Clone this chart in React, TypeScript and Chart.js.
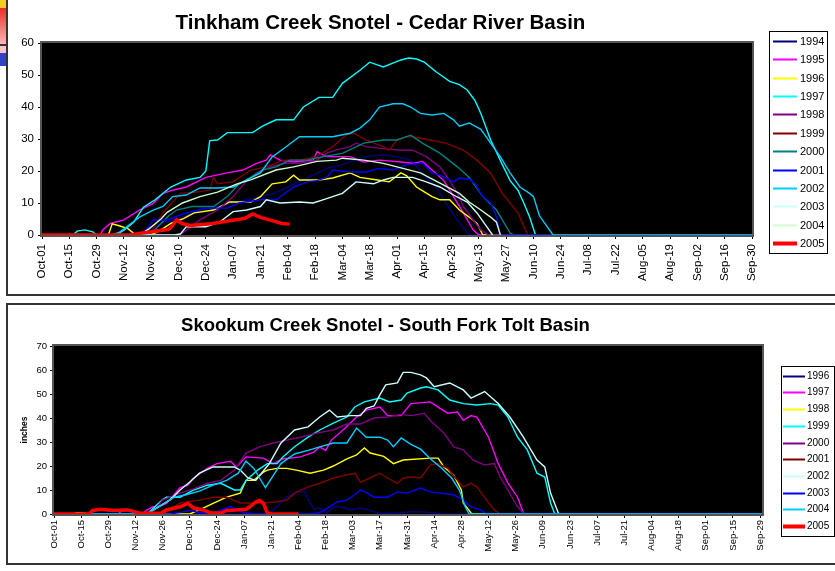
import React, { useEffect, useRef } from "react";
import { Chart, registerables } from "chart.js";

Chart.register(...registerables);

type Pt = [number, number];

const FONT = "'Liberation Sans', Arial, Helvetica, sans-serif";

// ================= Top chart: Tinkham Creek =================
const topTitle = "Tinkham Creek Snotel - Cedar River Basin";
const topTickLabels = [
  "Oct-01", "Oct-15", "Oct-29", "Nov-12", "Nov-26", "Dec-10", "Dec-24", "Jan-07", "Jan-21",
  "Feb-04", "Feb-18", "Mar-04", "Mar-18", "Apr-01", "Apr-15", "Apr-29", "May-13", "May-27",
  "Jun-10", "Jun-24", "Jul-08", "Jul-22", "Aug-05", "Aug-19", "Sep-02", "Sep-16", "Sep-30",
];
const topYears = ["1994", "1995", "1996", "1997", "1998", "1999", "2000", "2001", "2002", "2003", "2004", "2005"];
const topColors = ["#000080", "#FF00FF", "#FFFF00", "#00FFFF", "#800080", "#800000", "#008080", "#0000FF", "#00CCFF", "#CCFFFF", "#CCFFCC", "#FF0000"];

// [day since Oct-01, inches]
const t1994: Pt[] = [[0,0],[50,0],[56,2],[63,4],[70,5],[77,7],[84,8],[91,9],[98,10],[105,11],[112,12],[119,13],[126,15],[133,17],[140,19],[147,21],[154,22],[165,24.4],[175,25],[182,24.4],[189,23.4],[195,19.4],[202,15],[207,10],[213,4.7],[218,0.6],[219,0],[364,0]];
const t1995: Pt[] = [[0,0],[30,0],[31,1.5],[35,3.6],[42,4.7],[50,7.8],[57,9.9],[62,13],[67,14],[74,15],[84,18],[95,19.4],[103,20.3],[110,22.4],[115,23.4],[117,25],[122,23.4],[129,22.8],[139,23.4],[141,26],[146,24.5],[158,24.5],[165,22.8],[173,23.4],[184,22.8],[190,22.4],[195,23],[200,20.3],[206,17],[211,12],[216,6.9],[221,1.6],[224,0],[364,0]];
const t1996: Pt[] = [[0,0],[34,0],[36,3.5],[40,2.8],[44,2],[47,0.5],[57,0.3],[62,2],[66,3.6],[72,5],[78,6.9],[88,7.8],[96,10.3],[107,10.3],[112,12],[115,14],[118,16],[125,16.6],[129,18.7],[132,17.2],[142,17.2],[149,17.8],[158,19.4],[163,18],[172,17.2],[178,16.6],[184,19.4],[187,18.5],[192,15],[196,13.5],[200,12],[204,11],[209,11],[214,7.8],[219,5.6],[223,3.6],[226,0],[364,0]];
const t1997: Pt[] = [[0,0],[16,0],[18,1.2],[22,1.6],[26,1],[28,0],[38,0],[42,1.5],[47,4],[52,8.7],[58,11],[66,15],[74,17.2],[81,18],[84,20],[86,29.5],[90,29.7],[95,32],[108,32],[113,34],[120,36],[129,36],[134,40],[142,43],[149,43],[154,47.4],[163,51.5],[168,54],[175,52.5],[184,54.7],[188,55.3],[192,55],[196,54],[202,51],[209,48],[214,47],[218,45.3],[222,42],[225,38],[230,29.7],[236,22],[240,17],[244,14],[247,10],[250,5.6],[253,0],[364,0]];
const t1998: Pt[] = [[0,0],[68,0],[72,0.6],[81,4.7],[90,7.8],[98,12],[105,17],[110,19.4],[117,21.3],[124,22.4],[132,22.4],[141,23.4],[146,25.6],[151,26.6],[158,27.6],[161,28.7],[166,27.6],[175,27],[184,26.5],[190,26.5],[197,24.5],[204,21.3],[209,17],[213,13],[216,8.9],[221,4.7],[225,1.6],[229,0],[364,0]];
const t1999: Pt[] = [[0,0],[55,0],[58,3],[62,6.9],[71,13],[79,13.4],[86,14],[88,18],[90,16],[98,16.6],[107,20.3],[115,21.3],[124,23.4],[132,23.4],[141,24.5],[149,27.6],[156,31.3],[160,31.8],[166,29.7],[175,27.6],[178,26.5],[182,29.7],[187,30.7],[190,30.7],[199,29.7],[207,28.7],[216,26.5],[223,23.4],[230,19.4],[236,13],[244,6.9],[249,0],[364,0]];
const t2000: Pt[] = [[0,0],[55,0],[60,3],[65,6],[69,7.8],[77,8.9],[88,8.9],[95,12],[101,16],[107,18],[113,20.3],[120,21.3],[127,23.4],[136,23.4],[144,24.5],[154,25.5],[165,28.7],[175,29.7],[182,29.7],[189,31.2],[195,28.7],[204,25.6],[213,21.3],[219,18],[226,12],[233,7.8],[240,0.6],[242,0],[364,0]];
const t2001: Pt[] = [[0,0],[50,0],[54,2],[57,4.7],[64,4.7],[74,6.9],[84,8.4],[95,8.4],[101,10],[112,11],[120,11],[129,15],[136,16.6],[141,17],[146,18],[149,20.3],[158,19.7],[166,19.7],[173,20.8],[180,20.3],[187,22],[195,22.4],[200,19.4],[205,18.5],[211,16.6],[214,17.8],[219,17.5],[222,16],[226,12],[230,10],[233,5.6],[235,0],[364,0]];
const t2002: Pt[] = [[0,0],[36,0],[40,1],[50,5.6],[57,7.8],[62,8.9],[67,12],[74,12.5],[81,14.7],[90,14.7],[98,15],[105,17.2],[112,19.4],[118,24.4],[125,27.5],[132,30.7],[142,30.7],[149,30.7],[158,31.8],[163,33.4],[168,36],[173,40],[180,41],[185,41],[189,40],[194,38],[200,37.5],[206,38],[211,36],[214,34],[219,35],[225,33],[230,28.7],[235,24.4],[240,19.4],[245,15],[250,13],[252,12],[255,6],[258,3.5],[262,0],[364,0]];
const t2003: Pt[] = [[0,0],[68,0],[71,0.3],[74,2.6],[84,2.6],[91,4],[98,7.3],[105,7.8],[112,8.9],[115,11],[122,10],[132,10.3],[139,10],[144,11],[149,12],[154,13],[161,16.6],[170,16],[175,17.2],[180,18],[190,18],[197,16.6],[204,15],[211,12.5],[218,10.3],[223,6.9],[228,2.6],[231,0]];
const t2004: Pt[] = [[0,0],[50,0],[55,2],[61,5],[64,7],[72,10],[81,12],[90,13.4],[100,16],[107,17.2],[120,20.3],[129,21.3],[141,23],[151,23.4],[154,24],[165,23.4],[175,22.4],[182,21.3],[194,19.4],[206,15.6],[214,13],[219,10.3],[225,7.8],[230,5.6],[233,4],[235,0]];
const t2005: Pt[] = [[0,0],[45,0],[50,0.5],[58,1.2],[65,1.8],[67,3],[69,4.7],[72,3.5],[76,3],[85,3.4],[90,3.8],[97,4.5],[104,5.2],[108,6.6],[112,5.5],[118,4.5],[123,3.6],[127,3.4]];
const topSeries = [t1994, t1995, t1996, t1997, t1998, t1999, t2000, t2001, t2002, t2003, t2004, t2005];

// ================= Bottom chart: Skookum Creek =================
const botTitle = "Skookum Creek Snotel - South Fork Tolt Basin";
const botTickLabels = [
  "Oct-01", "Oct-15", "Oct-29", "Nov-12", "Nov-26", "Dec-10", "Dec-24", "Jan-07", "Jan-21",
  "Feb-04", "Feb-18", "Mar-03", "Mar-17", "Mar-31", "Apr-14", "Apr-28", "May-12", "May-26",
  "Jun-09", "Jun-23", "Jul-07", "Jul-21", "Aug-04", "Aug-18", "Sep-01", "Sep-15", "Sep-29",
];
const botYears = ["1996", "1997", "1998", "1999", "2000", "2001", "2002", "2003", "2004", "2005"];
const botColors = ["#000080", "#FF00FF", "#FFFF00", "#00FFFF", "#800080", "#800000", "#CCFFFF", "#0000FF", "#00CCFF", "#FF0000"];

const b1996: Pt[] = [[0,0],[108,0],[112,1],[116,4],[120,7],[124,8.7],[129,9.5],[131,6],[134,2],[137,2.5],[141,0.4],[144,3],[148,3],[153,1.7],[158,2.5],[163,1.5],[167,0.4],[175,0.3],[185,1],[192,0.8],[200,0],[365,0]];
const b1997: Pt[] = [[0,0],[33,0],[36,2],[40,1.5],[44,0],[46,0.5],[48,1.7],[51,3],[55,3.4],[58,4.4],[65,11],[69,12],[72,15],[79,19],[84,21],[91,22],[94,19.6],[99,23.8],[108,23.3],[113,21],[118,23],[122,23.3],[127,23.8],[134,25.8],[137,28],[140,26.5],[143,30.8],[149,35],[156,40.4],[161,43.3],[168,44.6],[172,41],[179,41],[184,46],[194,46.7],[199,44],[203,42],[208,42.5],[211,39],[215,41],[218,40.4],[224,32],[229,21],[234,13],[239,7],[242,0.4],[243,0],[365,0]];
const b1998: Pt[] = [[0,0],[10,0],[12,0.5],[16,0.3],[18,0],[70,0],[75,1.7],[82,4.4],[89,7],[96,8.7],[99,14],[103,14],[108,17.5],[110,18.3],[115,19],[120,19],[125,18.3],[132,17],[139,18.3],[144,20],[151,23],[156,24.6],[160,27.5],[163,25.4],[170,24],[175,21],[180,22.5],[194,23.3],[198,23.3],[201,19.6],[206,16.3],[210,10],[211,4.6],[215,0.4],[216,0],[365,0]];
const b1999: Pt[] = [[0,0],[48,0],[52,3],[56,6],[58,7],[65,7],[72,10],[79,12],[86,12.8],[93,10],[96,10],[99,14],[105,18.3],[110,21],[115,21],[118,23.8],[124,28],[131,32],[137,35],[144,37.9],[151,40.4],[155,44.6],[160,46.7],[168,48.3],[173,46.7],[179,47.5],[182,50.4],[189,52.5],[192,53],[198,51.7],[204,47.5],[211,46],[218,45.4],[225,46],[229,45.4],[234,40.4],[239,32],[244,26.7],[249,17],[253,15.4],[256,4.6],[258,0.4],[259,0],[365,0]];
const b2000: Pt[] = [[0,0],[48,0],[52,2],[56,5.8],[65,8.7],[72,10.5],[79,12.8],[86,14],[93,18.3],[99,25.4],[106,28],[113,29.6],[120,30.8],[127,32],[136,33.8],[144,35],[151,37.5],[158,37.5],[165,40],[172,40.4],[179,41.5],[184,41],[191,42],[194,39],[201,33.8],[206,28],[211,26.7],[216,22.5],[222,20.4],[227,21],[230,15.4],[234,10],[239,3],[242,0.4],[243,0],[365,0]];
const b2001: Pt[] = [[0,0],[55,0],[60,2],[65,4.6],[75,5.8],[82,7],[89,7],[96,4.6],[106,4.6],[114,5],[120,5.8],[124,8.7],[131,11.3],[137,12.8],[141,14],[144,15],[151,16.3],[155,17],[158,13.3],[163,15],[168,17],[172,15],[177,12.8],[180,15],[185,15.4],[189,15],[194,20.4],[198,21],[203,19],[207,15],[211,11.3],[215,12.8],[218,11.3],[223,5.8],[227,1.7],[230,0],[365,0]];
const b2002: Pt[] = [[0,0],[48,0],[52,2],[56,4],[60,6],[65,10],[70,13.3],[75,17],[82,19.6],[93,19.6],[96,18.3],[100,15],[104,14],[107,17],[111,21],[117,29.6],[124,35],[131,36.3],[137,40.4],[142,43.3],[146,40.4],[153,41],[158,41],[161,44],[165,45],[168,49.6],[171,53.8],[177,54.6],[180,59],[184,59],[189,58],[192,56.7],[196,53],[204,54.6],[211,51.7],[215,48.3],[222,51],[229,46],[235,40.4],[242,32],[249,22.5],[253,19.6],[256,8.7],[260,0.4],[261,0],[365,0]];
const b2003: Pt[] = [[0,0],[60,0],[66,0.8],[70,1.5],[75,0.5],[82,0.3],[86,1.7],[91,3],[94,2],[98,0.5],[104,0],[132,0],[137,0.5],[142,3],[146,5],[151,5.8],[155,8],[158,10],[161,9],[165,7],[172,7],[177,9.2],[182,8.7],[189,10.8],[194,9.2],[199,8.7],[206,8],[211,5.8],[215,3],[220,1.7],[223,0],[365,0]];
const b2004: Pt[] = [[0,0],[48,0],[52,2],[56,4],[62,7],[68,8],[75,9.5],[82,12],[89,14],[95,17],[99,22],[103,19],[106,15],[109,11],[113,16],[117,21],[124,25],[131,26.5],[137,28],[144,29.6],[151,29.6],[156,35.8],[161,32],[168,32],[172,30.8],[175,28],[179,31.7],[184,29],[189,27],[194,23],[200,19],[205,15],[209,10],[212,3],[214,0],[365,0]];
const b2005: Pt[] = [[0,0],[18,0],[20,1.5],[24,2],[30,1.5],[38,1.7],[44,0.4],[55,0.3],[58,1.7],[65,3],[69,4.4],[72,2.5],[77,1.7],[81,0.4],[86,0.4],[89,1.5],[94,1.7],[99,2],[101,3],[104,5],[106,5.6],[108,4.4],[110,0.4],[112,0],[126,0]];
const botSeries = [b1996, b1997, b1998, b1999, b2000, b2001, b2002, b2003, b2004, b2005];

// ================= plugins =================
const plotFrame = {
  id: "plotFrame",
  beforeDatasetsDraw(chart: any) {
    const { ctx, chartArea: a } = chart;
    ctx.save();
    ctx.fillStyle = "#000";
    ctx.fillRect(a.left, a.top, a.right - a.left, a.bottom - a.top);
    ctx.strokeStyle = "#555";
    ctx.lineWidth = 2;
    ctx.strokeRect(a.left - 1, a.top - 1, a.right - a.left + 2, a.bottom - a.top + 2);
    ctx.restore();
  },
};

const boxLegend = {
  id: "boxLegend",
  afterDraw(chart: any, _args: any, o: any) {
    const { ctx } = chart;
    ctx.save();
    ctx.strokeStyle = "#000";
    ctx.lineWidth = 1;
    ctx.strokeRect(o.x + 0.5, o.y + 0.5, o.w, o.h);
    ctx.font = `${o.fontSize}px ${FONT}`;
    ctx.textBaseline = "middle";
    ctx.textAlign = "left";
    chart.data.datasets.forEach((ds: any, i: number) => {
      const y = Math.round(o.top + i * o.step) + 0.5;
      ctx.strokeStyle = ds.borderColor;
      ctx.lineWidth = ds.label === "2005" ? 4 : 2;
      ctx.beginPath();
      ctx.moveTo(o.x1, y);
      ctx.lineTo(o.x2, y);
      ctx.stroke();
      ctx.fillStyle = "#000";
      ctx.fillText(ds.label, o.tx, y);
    });
    ctx.restore();
  },
};

interface Spec {
  title: string;
  titleSize: number;
  titlePad: [number, number];
  labels: string[];
  years: string[];
  colors: string[];
  series: Pt[][];
  xMax: number;
  yMax: number;
  yFont: number;
  xFont: number;
  yWidth: number;
  xHeight: number;
  padRight: number;
  xPad: number;
  yPad: number;
  yTitle?: { text: string; size: number; pad: number };
  legend: any;
}

function buildConfig(s: Spec): any {
  return {
    type: "line",
    data: {
      datasets: s.series.map((pts, i) => ({
        label: s.years[i],
        data: pts.map(([x, y]) => ({ x, y })),
        borderColor: s.colors[i],
        backgroundColor: s.colors[i],
        borderWidth: s.years[i] === "2005" ? 3.5 : 1.4,
        pointRadius: 0,
        tension: 0,
        fill: false,
        order: -i,
      })),
    },
    options: {
      responsive: false,
      animation: false,
      events: [],
      layout: { padding: { left: 0, right: s.padRight, top: 0, bottom: 0 } },
      scales: {
        x: {
          type: "linear",
          min: 0,
          max: s.xMax,
          afterBuildTicks: (ax: any) => {
            ax.ticks = s.labels.map((_, i) => ({ value: i * 14 }));
          },
          afterFit: (ax: any) => {
            ax.height = s.xHeight;
          },
          ticks: {
            autoSkip: false,
            minRotation: 90,
            maxRotation: 90,
            padding: s.xPad,
            color: "#000",
            font: { family: FONT, size: s.xFont },
            callback: (_v: any, idx: number) => s.labels[idx] ?? "",
          },
          grid: { drawOnChartArea: false, drawTicks: true, tickLength: 4, color: "#000", lineWidth: 1 },
          border: { display: true, color: "#000", width: 1 },
        },
        y: {
          type: "linear",
          min: 0,
          max: s.yMax,
          afterFit: (ax: any) => {
            ax.width = s.yWidth;
          },
          ticks: {
            stepSize: 10,
            padding: s.yPad,
            color: "#000",
            font: { family: FONT, size: s.yFont },
          },
          grid: { drawOnChartArea: false, drawTicks: true, tickLength: 4, color: "#000", lineWidth: 1 },
          border: { display: true, color: "#000", width: 1 },
          title: s.yTitle
            ? {
                display: true,
                text: s.yTitle.text,
                color: "#000",
                font: { family: FONT, size: s.yTitle.size, weight: "bold" },
                padding: { top: s.yTitle.pad, bottom: 0 },
              }
            : { display: false },
        },
      },
      plugins: {
        legend: { display: false },
        tooltip: { enabled: false },
        title: {
          display: true,
          text: s.title,
          color: "#000",
          font: { family: FONT, size: s.titleSize, weight: "bold", lineHeight: 1.2 },
          padding: { top: s.titlePad[0], bottom: s.titlePad[1] },
        },
        boxLegend: s.legend,
      },
    },
    plugins: [plotFrame, boxLegend],
  };
}

const topSpec: Spec = {
  title: topTitle,
  titleSize: 20.5,
  titlePad: [10.7, 7.7],
  labels: topTickLabels,
  years: topYears,
  colors: topColors,
  series: topSeries,
  xMax: 364,
  yMax: 60,
  yFont: 11.5,
  xFont: 11.5,
  yWidth: 33,
  xHeight: 57,
  padRight: 83,
  xPad: 5,
  yPad: 4,
  legend: { x: 760, y: 31, w: 58, h: 222, top: 41, step: 18.36, x1: 764, x2: 788, tx: 791, fontSize: 11 },
};

const botSpec: Spec = {
  title: botTitle,
  titleSize: 18.5,
  titlePad: [9.2, 8.6],
  labels: botTickLabels,
  years: botYears,
  colors: botColors,
  series: botSeries,
  xMax: 365,
  yMax: 70,
  yFont: 9.5,
  xFont: 9.5,
  yWidth: 45,
  xHeight: 48,
  padRight: 73,
  xPad: 2,
  yPad: 3,
  yTitle: { text: "inches", size: 8.5, pad: 11 },
  legend: { x: 772, y: 60, w: 53, h: 170, top: 69.7, step: 16.72, x1: 774, x2: 796, tx: 798, fontSize: 10 },
};

function ChartCanvas({ spec, left, top, width, height }: { spec: Spec; left: number; top: number; width: number; height: number }) {
  const ref = useRef<HTMLCanvasElement>(null);
  useEffect(() => {
    const chart = new Chart(ref.current as HTMLCanvasElement, buildConfig(spec));
    return () => chart.destroy();
  }, [spec]);
  return (
    <canvas
      ref={ref}
      width={width}
      height={height}
      style={{ position: "absolute", left, top, width, height, display: "block" }}
    />
  );
}

export default function App() {
  const abs = (l: number, t: number, w: number, h: number, bg: string): React.CSSProperties => ({
    position: "absolute", left: l, top: t, width: w, height: h, background: bg,
  });
  return (
    <div style={{ position: "absolute", left: 0, top: 0, width: 835, height: 571, overflow: "hidden", background: "#fff" }}>
      {/* fragment of a neighbouring object at the far left */}
      <div style={abs(0, 0, 6, 8, "#f2cf1c")} />
      <div style={{ ...abs(0, 8, 6, 36, ""), background: "linear-gradient(#ee2a2a, #f8b8b8)" }} />
      <div style={abs(0, 44, 6, 2, "#333")} />
      <div style={abs(0, 46, 6, 7, "#f6c6c6")} />
      <div style={abs(0, 53, 6, 13, "#3340c8")} />
      {/* chart object frames */}
      <div style={{ position: "absolute", left: 6, top: -10, width: 840, height: 306, border: "2px solid #333", boxSizing: "border-box" }} />
      <div style={{ position: "absolute", left: 6, top: 303, width: 840, height: 262, border: "2px solid #333", boxSizing: "border-box" }} />
      <ChartCanvas spec={topSpec} left={9} top={0} width={826} height={292} />
      <ChartCanvas spec={botSpec} left={9} top={306} width={826} height={256} />
    </div>
  );
}
